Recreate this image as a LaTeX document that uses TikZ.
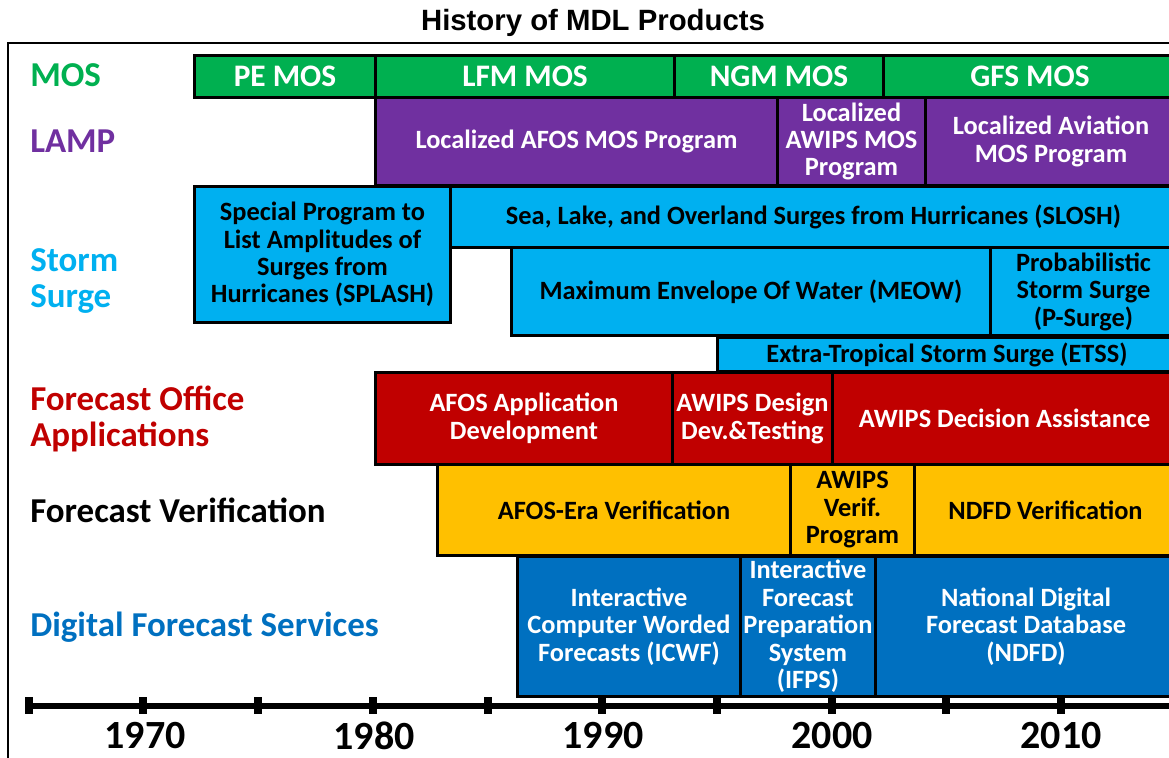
\documentclass[tikz,border=0pt]{standalone}
\usepackage{fontspec}
\setmainfont{Carlito}
\newfontfamily\arialfont{Liberation Sans}
\definecolor{cmos}{HTML}{00B050}
\definecolor{clamp}{HTML}{7030A0}
\definecolor{csurge}{HTML}{00B0F0}
\definecolor{cfo}{HTML}{C00000}
\definecolor{cver}{HTML}{FFC000}
\definecolor{cdig}{HTML}{0070C0}
\newcommand\mdlbxfont{\fontsize{19.8}{20.6}\selectfont\bfseries}
\newcommand\mdlmosfont{\fontsize{23.5}{25}\selectfont\bfseries}
\newcommand\mdlcatfont{\fontsize{26.2}{27.3}\selectfont\bfseries}
\newcommand\mdlyearfont{\fontsize{30}{31}\selectfont\bfseries}
\newcommand\mdlbox[7]{\node[bx,#6,minimum width={(#4-#2)*0.75pt},minimum height={(#5-#3)*0.75pt}] (#1) at (#2,#3) {#7};}
\begin{document}
\begin{tikzpicture}[x=0.75pt,y=-0.75pt,
  bx/.style={draw=black,line width=2.25pt,anchor=north west,inner sep=1pt,align=center,font=\mdlbxfont},
  mosb/.style={fill=cmos,text=white,font=\mdlmosfont},
  lampb/.style={fill=clamp,text=white},
  surgeb/.style={fill=csurge,text=black},
  fob/.style={fill=cfo,text=white},
  verb/.style={fill=cver,text=black},
  digb/.style={fill=cdig,text=white},
  cat/.style={anchor=west,align=left,inner sep=0pt,font=\mdlcatfont},
  year/.style={font=\mdlyearfont,inner sep=0pt},
  frame/.style={line width=1.6pt,draw=black}]
\useasboundingbox (0,0) rectangle (1169,757);
% title
\node[font=\arialfont\fontsize{22}{24}\selectfont\bfseries] (title) at (593,23) {History of MDL Products};
% frame
\coordinate (ftl) at (8,43);
\coordinate (ftr) at (1180,43);
\coordinate (fbl) at (8,765);
\draw[frame] (ftr) -- (ftl) -- (fbl);
% category labels
\node[cat,text=cmos] (lmos) at (30,75) {MOS};
\node[cat,text=clamp] (llamp) at (30,141) {LAMP};
\node[cat,text=csurge] (lsurge) at (30,281) {Storm\\Surge};
\node[cat,text=cfo] (lfo) at (30,419) {Forecast Office\\Applications};
\node[cat,text=black] (lver) at (30,510) {Forecast Verification};
\node[cat,text=cdig] (ldig) at (30,627) {Digital Forecast Services};
% MOS
\mdlbox{pe}{193}{54}{374}{96}{mosb}{PE MOS}
\mdlbox{lfm}{374}{54}{673}{96}{mosb}{LFM MOS}
\mdlbox{ngm}{673}{54}{882}{96}{mosb}{NGM MOS}
\mdlbox{gfs}{882}{54}{1175}{96}{mosb}{GFS MOS}
% LAMP
\mdlbox{lafos}{374}{96}{776}{184}{lampb}{Localized AFOS MOS Program}
\mdlbox{lawips}{776}{96}{924}{184}{lampb}{Localized\\AWIPS MOS\\Program}
\mdlbox{lav}{924}{96}{1175}{184}{lampb}{Localized Aviation\\MOS Program}
% Storm surge
\mdlbox{splash}{193}{185}{449}{321}{surgeb}{Special Program to\\List Amplitudes of\\Surges from\\Hurricanes (SPLASH)}
\mdlbox{slosh}{449}{185}{1175}{246}{surgeb}{Sea, Lake, and Overland Surges from Hurricanes (SLOSH)}
\mdlbox{meow}{510}{246}{989}{334}{surgeb}{Maximum Envelope Of Water (MEOW)}
\mdlbox{psurge}{989}{246}{1175}{334}{surgeb}{Probabilistic\\Storm Surge\\(P-Surge)}
\mdlbox{etss}{716}{336}{1175}{370}{surgeb}{Extra-Tropical Storm Surge (ETSS)}
% Forecast office
\mdlbox{afosapp}{374}{371}{671}{463}{fob}{AFOS Application\\Development}
\mdlbox{awdes}{671}{371}{831}{463}{fob}{AWIPS Design\\Dev.\&Testing}
\mdlbox{awdec}{831}{371}{1175}{463}{fob}{AWIPS Decision Assistance}
% Verification
\mdlbox{afosver}{436}{463}{789}{554}{verb}{AFOS-Era Verification}
\mdlbox{awver}{789}{463}{913}{554}{verb}{AWIPS\\Verif.\\Program}
\mdlbox{ndfdver}{913}{463}{1175}{554}{verb}{NDFD Verification}
% Digital
\mdlbox{icwf}{516}{555}{739}{695}{digb}{Interactive\\Computer Worded\\Forecasts (ICWF)}
\mdlbox{ifps}{739}{555}{874}{695}{digb}{Interactive\\Forecast\\Preparation\\System\\(IFPS)}
\mdlbox{ndfd}{874}{555}{1175}{695}{digb}{National Digital\\Forecast Database\\(NDFD)}
% axis
\coordinate (ax0) at (25,706);
\coordinate (ax1) at (1180,706);
\draw[line width=4.5pt] (ax0) -- (ax1);
\foreach \k in {0,...,9}{
  \fill ({28.7+\k*114.7-4},697) rectangle ++(8,17);
}
\node[year] (y1970) at (145,736) {1970};
\node[year] (y1980) at (374,736) {1980};
\node[year] (y1990) at (603,736) {1990};
\node[year] (y2000) at (832,736) {2000};
\node[year] (y2010) at (1061,736) {2010};
\end{tikzpicture}
\end{document}
